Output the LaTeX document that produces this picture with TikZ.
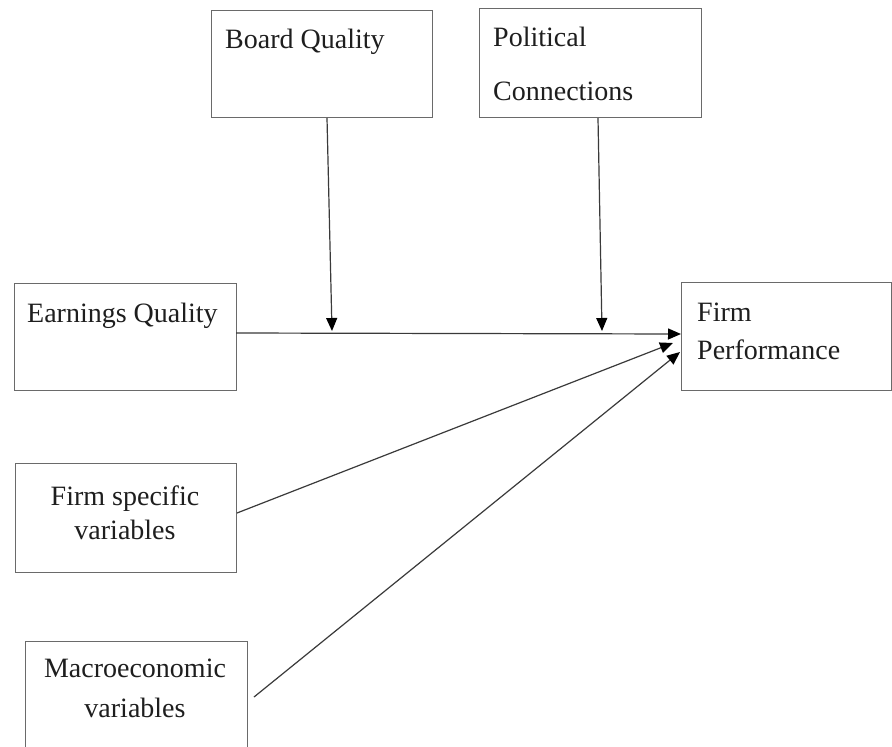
\documentclass[tikz,border=0pt]{standalone}
\usepackage{fontspec}
\setmainfont{Liberation Serif}
\newfontfamily\tnr{Liberation Serif}
\usetikzlibrary{arrows.meta}
\definecolor{boxline}{HTML}{6A6A6A}
\definecolor{arrline}{HTML}{3A3A3A}
\definecolor{txt}{HTML}{1E1E1E}
\begin{document}
\begin{tikzpicture}[x=1pt,y=-1pt,
  box/.style={draw=boxline,line width=1.3pt,rectangle,anchor=north west,inner sep=0pt},
  lbl/.style={anchor=base west,inner sep=0pt,text=txt,font=\tnr\fontsize{28}{34}\selectfont},
  clbl/.style={anchor=base,inner sep=0pt,text=txt,font=\tnr\fontsize{28}{34}\selectfont},
  conn/.style={draw=arrline,line width=1.2pt,-{Triangle[length=13pt,width=11pt,color=black]}}]
\useasboundingbox[fill=white] (0,0) rectangle (892,747);
% boxes
\node[box,minimum width=221pt,minimum height=107pt] (bq) at (211,10) {};
\node[box,minimum width=222pt,minimum height=109pt] (pc) at (479,8) {};
\node[box,minimum width=222pt,minimum height=107pt] (eq) at (14,283) {};
\node[box,minimum width=210pt,minimum height=108pt] (fp) at (681,282) {};
\node[box,minimum width=221pt,minimum height=109pt] (fs) at (15,463) {};
\node[box,minimum width=222pt,minimum height=110pt] (mv) at (25,641) {};
% texts
\node[lbl] (tbq) at (225,48) {Board Quality};
\node[lbl] (tpc1) at (493,46) {Political};
\node[lbl] (tpc2) at (493,100) {Connections};
\node[lbl] (teq) at (27,322) {Earnings Quality};
\node[lbl] (tfp1) at (697,321) {Firm};
\node[lbl] (tfp2) at (697,359) {Performance};
\node[clbl] (tfs1) at (125,505) {Firm specific};
\node[clbl] (tfs2) at (125,539) {variables};
\node[clbl] (tmv1) at (135,677) {Macroeconomic};
\node[clbl] (tmv2) at (135,717) {variables};
% connector end points
\coordinate (bqtip) at (332,331);
\coordinate (pctip) at (602,331);
\coordinate (eqtip) at (681,334);
\coordinate (fstip) at (673,343);
\coordinate (mvtip) at (680,352);
\coordinate (bqs) at (327,118);
\coordinate (pcs) at (598,118);
\coordinate (eqs) at (236,333);
\coordinate (fss) at (237,513);
\coordinate (mvs) at (254,697);
% connectors
\draw[conn] (bqs) -- (bqtip);
\draw[conn] (pcs) -- (pctip);
\draw[conn] (eqs) -- (eqtip);
\draw[conn] (fss) -- (fstip);
\draw[conn] (mvs) -- (mvtip);
\end{tikzpicture}
\end{document}
